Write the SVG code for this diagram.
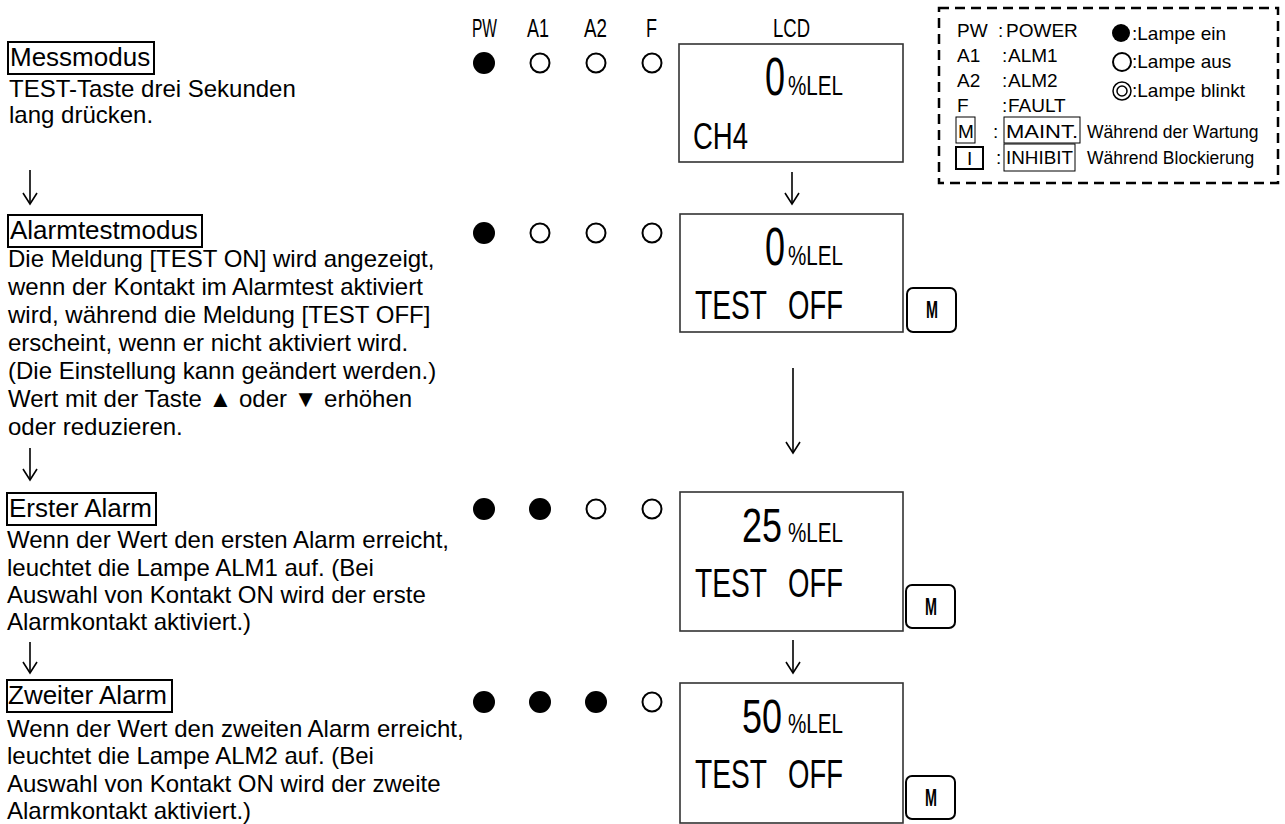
<svg xmlns="http://www.w3.org/2000/svg" width="1285" height="824" viewBox="0 0 1285 824">
<defs>
<style>
text{font-family:"Liberation Sans",Arial,sans-serif;fill:#000}
.h{font-size:26px}
.b{font-size:24px}
.hb{fill:none;stroke:#000;stroke-width:2}
.lcd{fill:#fff;stroke:#333;stroke-width:1.6}
.on{fill:#000}
.off{fill:#fff;stroke:#000;stroke-width:2}
.btn{fill:#fff;stroke:#000;stroke-width:2}
.mb{font-size:24px;font-weight:bold}
.lg{font-size:19px}
.lw{font-size:17.5px}
.d1{font-size:53px}
.d2{font-size:49px}
.u{font-size:28px}
.t{font-size:40.5px}
.cn{stroke:#000;stroke-width:1.6;fill:none}
</style>
<marker id="ah" viewBox="0 0 16 16" refX="14" refY="8" markerWidth="16" markerHeight="16" markerUnits="userSpaceOnUse" orient="auto">
<path d="M3,1 L14,8 L3,15" fill="none" stroke="#000" stroke-width="1.6"/>
</marker>
</defs>
<rect width="1285" height="824" fill="#fff"/>

<g id="headers">
<text x="472" y="37" font-size="26.5" textLength="25" lengthAdjust="spacingAndGlyphs">PW</text>
<text x="527" y="37" font-size="26.5" textLength="22" lengthAdjust="spacingAndGlyphs">A1</text>
<text x="584" y="37" font-size="26.5" textLength="23" lengthAdjust="spacingAndGlyphs">A2</text>
<text x="646" y="37" font-size="26.5" textLength="11" lengthAdjust="spacingAndGlyphs">F</text>
<text x="773" y="37" font-size="26.5" textLength="37" lengthAdjust="spacingAndGlyphs">LCD</text>
</g>

<g id="step1">
<rect class="hb" x="8" y="42" width="146" height="32"/>
<text class="h" x="10" y="66">Messmodus</text>
<text class="b" x="9" y="97">TEST-Taste drei Sekunden</text>
<text class="b" x="9" y="123">lang drücken.</text>
<circle class="on" cx="484" cy="63" r="11"/>
<circle class="off" cx="540" cy="63" r="9.5"/>
<circle class="off" cx="596" cy="63" r="9.5"/>
<circle class="off" cx="652" cy="63" r="9.5"/>
<rect class="lcd" x="679" y="44" width="224" height="118"/>
<text class="d1" transform="translate(765,95) scale(0.68,1)">0</text>
<text class="u" transform="translate(788,95) scale(0.736,1)">%LEL</text>
<text font-size="37.7" transform="translate(693,149) scale(0.73,1)">CH4</text>
</g>

<g id="step2">
<rect class="hb" x="8" y="215" width="194" height="32"/>
<text class="h" x="10" y="239">Alarmtestmodus</text>
<text class="b" x="8" y="267">Die Meldung [TEST ON] wird angezeigt,</text>
<text class="b" x="8" y="295">wenn der Kontakt im Alarmtest aktiviert</text>
<text class="b" x="8" y="323">wird, während die Meldung [TEST OFF]</text>
<text class="b" x="8" y="351">erscheint, wenn er nicht aktiviert wird.</text>
<text class="b" x="8" y="379">(Die Einstellung kann geändert werden.)</text>
<text class="b" x="8" y="407">Wert mit der Taste ▲ oder ▼ erhöhen</text>
<text class="b" x="8" y="435">oder reduzieren.</text>
<circle class="on" cx="484" cy="233" r="11"/>
<circle class="off" cx="540" cy="233" r="9.5"/>
<circle class="off" cx="596" cy="233" r="9.5"/>
<circle class="off" cx="652" cy="233" r="9.5"/>
<rect class="lcd" x="680" y="214" width="223" height="118"/>
<text class="d1" transform="translate(765,265) scale(0.68,1)">0</text>
<text class="u" transform="translate(788,265) scale(0.736,1)">%LEL</text>
<text class="t" transform="translate(695,319) scale(0.696,1)">TEST</text>
<text class="t" transform="translate(788,319) scale(0.68,1)">OFF</text>
<rect class="btn" x="907" y="288" width="49" height="44" rx="6"/>
<text class="mb" x="926" y="318" textLength="12" lengthAdjust="spacingAndGlyphs">M</text>
</g>

<g id="step3">
<rect class="hb" x="7" y="493" width="149" height="32"/>
<text class="h" x="9" y="517">Erster Alarm</text>
<text class="b" x="7" y="548">Wenn der Wert den ersten Alarm erreicht,</text>
<text class="b" x="7" y="576">leuchtet die Lampe ALM1 auf. (Bei</text>
<text class="b" x="7" y="603">Auswahl von Kontakt ON wird der erste</text>
<text class="b" x="7" y="630">Alarmkontakt aktiviert.)</text>
<circle class="on" cx="484" cy="509" r="11"/>
<circle class="on" cx="540" cy="509" r="11"/>
<circle class="off" cx="596" cy="509" r="9.5"/>
<circle class="off" cx="652" cy="509" r="9.5"/>
<rect class="lcd" x="680" y="492" width="223" height="139"/>
<text class="d2" transform="translate(742,542) scale(0.734,1)">25</text>
<text class="u" transform="translate(788,542) scale(0.736,1)">%LEL</text>
<text class="t" transform="translate(695,597) scale(0.696,1)">TEST</text>
<text class="t" transform="translate(788,597) scale(0.68,1)">OFF</text>
<rect class="btn" x="906" y="585" width="49" height="43" rx="6"/>
<text class="mb" x="925" y="615" textLength="12" lengthAdjust="spacingAndGlyphs">M</text>
</g>

<g id="step4">
<rect class="hb" x="7" y="680" width="165" height="32"/>
<text class="h" x="8" y="704">Zweiter Alarm</text>
<text class="b" x="7" y="737">Wenn der Wert den zweiten Alarm erreicht,</text>
<text class="b" x="7" y="764">leuchtet die Lampe ALM2 auf. (Bei</text>
<text class="b" x="7" y="792">Auswahl von Kontakt ON wird der zweite</text>
<text class="b" x="7" y="819">Alarmkontakt aktiviert.)</text>
<circle class="on" cx="484" cy="702" r="11"/>
<circle class="on" cx="540" cy="702" r="11"/>
<circle class="on" cx="596" cy="702" r="11"/>
<circle class="off" cx="652" cy="702" r="9.5"/>
<rect class="lcd" x="680" y="683" width="223" height="140"/>
<text class="d2" transform="translate(742,733) scale(0.734,1)">50</text>
<text class="u" transform="translate(788,733) scale(0.736,1)">%LEL</text>
<text class="t" transform="translate(695,788) scale(0.696,1)">TEST</text>
<text class="t" transform="translate(788,788) scale(0.68,1)">OFF</text>
<rect class="btn" x="906" y="776" width="49" height="43" rx="6"/>
<text class="mb" x="925" y="806" textLength="12" lengthAdjust="spacingAndGlyphs">M</text>
</g>

<g id="legend">
<rect x="939" y="8" width="339" height="175" fill="none" stroke="#000" stroke-width="2.5" stroke-dasharray="10 6"/>
<text class="lg" x="957" y="37">PW<tspan x="998">:</tspan><tspan x="1006">POWER</tspan></text>
<text class="lg" x="957" y="62">A1<tspan x="1002">:</tspan><tspan x="1008">ALM1</tspan></text>
<text class="lg" x="957" y="87">A2<tspan x="1002">:</tspan><tspan x="1008">ALM2</tspan></text>
<text class="lg" x="957" y="112">F<tspan x="1002">:</tspan><tspan x="1008">FAULT</tspan></text>
<rect x="956" y="117" width="19" height="26" fill="none" stroke="#000" stroke-width="1"/>
<rect x="1004" y="117" width="76" height="26" fill="none" stroke="#000" stroke-width="1"/>
<text class="lg" x="958" y="138">M<tspan x="993">:</tspan><tspan x="1006" textLength="72" lengthAdjust="spacingAndGlyphs">MAINT.</tspan><tspan x="1087" font-size="17.5">Während der Wartung</tspan></text>
<rect x="956" y="147" width="27" height="22" fill="none" stroke="#000" stroke-width="2"/>
<rect x="1004" y="144" width="71" height="27" fill="none" stroke="#000" stroke-width="1"/>
<text class="lg" x="967" y="165">I</text>
<text class="lg" x="996" y="164">:<tspan x="1006" textLength="67" lengthAdjust="spacingAndGlyphs">INHIBIT</tspan><tspan x="1087" font-size="17.5">Während Blockierung</tspan></text>
<circle cx="1121" cy="33" r="9" fill="#000"/>
<text class="lg" x="1132" y="40">:Lampe ein</text>
<circle cx="1122" cy="62" r="9" fill="none" stroke="#000" stroke-width="2"/>
<text class="lg" x="1132" y="68">:Lampe aus</text>
<circle cx="1122" cy="91" r="9" fill="none" stroke="#000" stroke-width="1.5"/>
<circle cx="1122" cy="91" r="5" fill="none" stroke="#000" stroke-width="1.5"/>
<text class="lg" x="1132" y="97">:Lampe blinkt</text>
</g>

<g id="connectors">
<line class="cn" x1="30" y1="170" x2="30" y2="204" marker-end="url(#ah)"/>
<line class="cn" x1="30" y1="448" x2="30" y2="480" marker-end="url(#ah)"/>
<line class="cn" x1="30" y1="642" x2="30" y2="673" marker-end="url(#ah)"/>
<line class="cn" x1="792" y1="172" x2="792" y2="204" marker-end="url(#ah)"/>
<line class="cn" x1="793" y1="368" x2="793" y2="453" marker-end="url(#ah)"/>
<line class="cn" x1="793" y1="640" x2="793" y2="673" marker-end="url(#ah)"/>
</g>
</svg>
